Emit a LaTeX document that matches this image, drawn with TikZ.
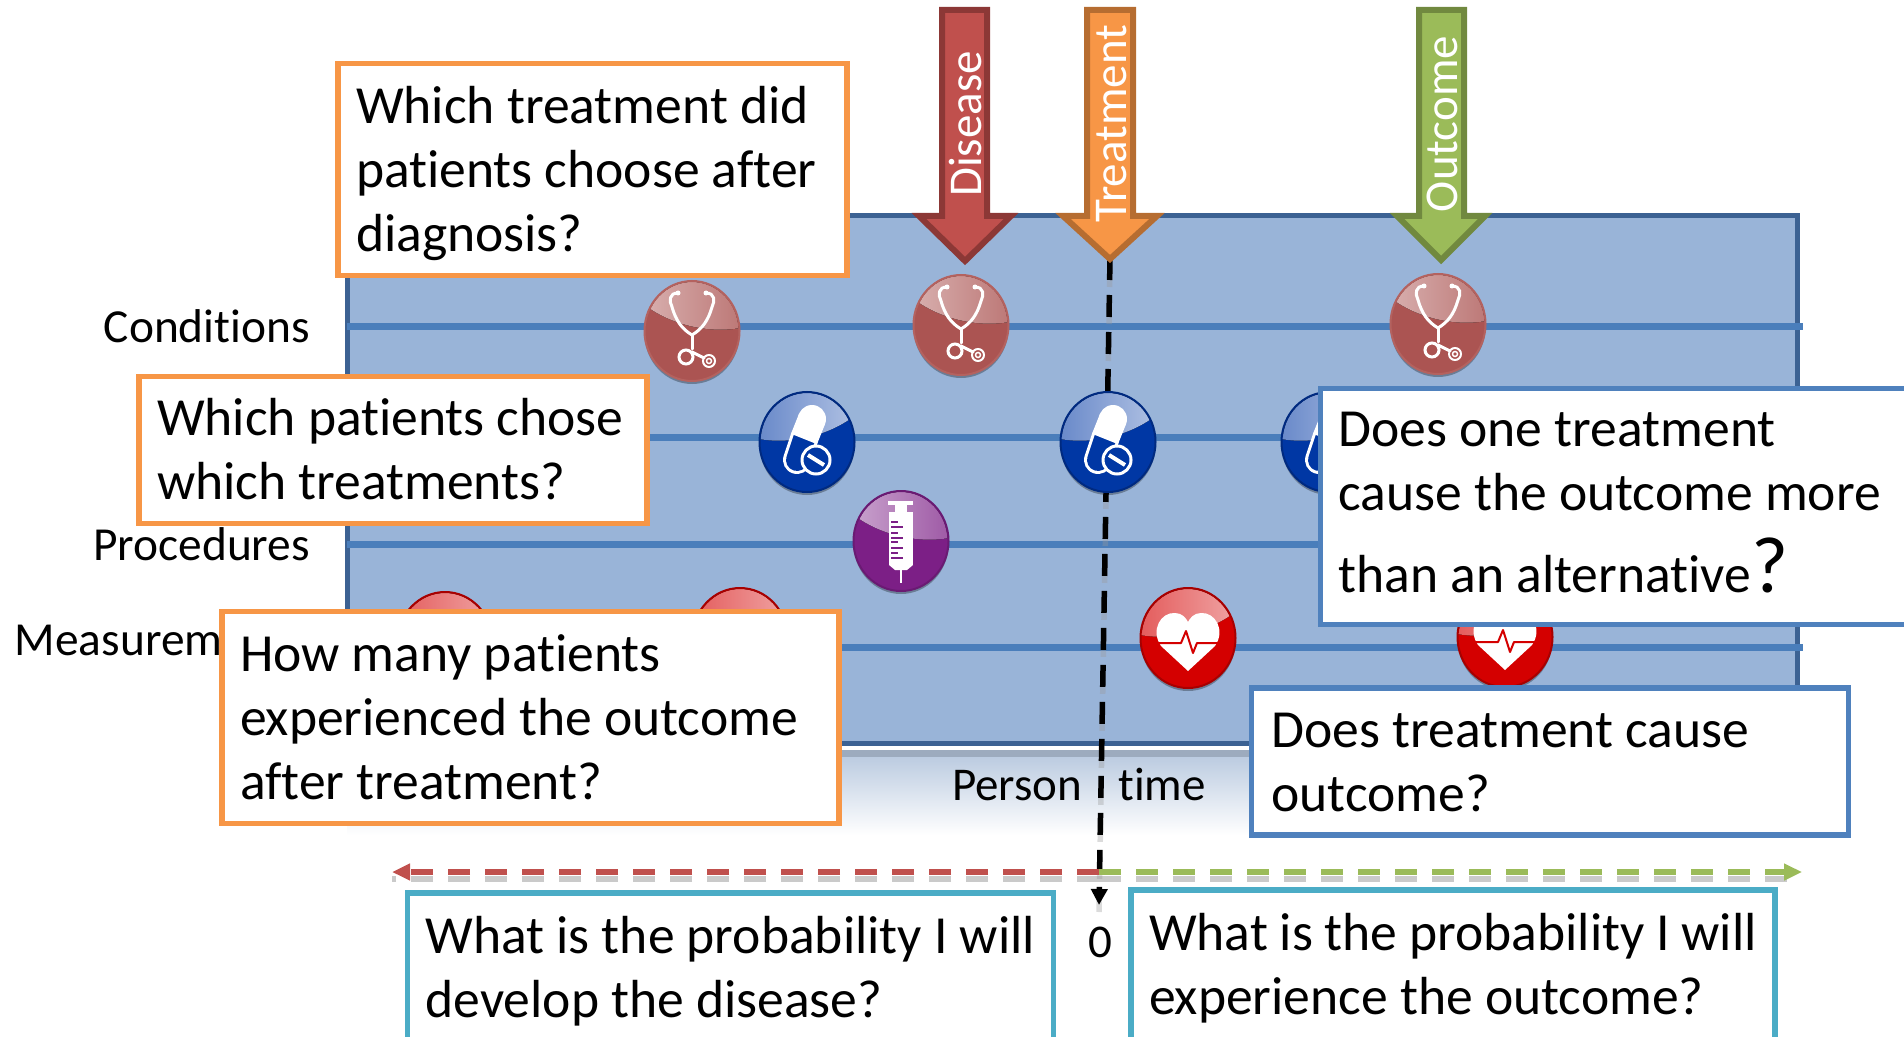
\documentclass[tikz,border=0pt]{standalone}
\usepackage{fontspec}
\setmainfont{Carlito}[Ligatures=NoCommon]
\usetikzlibrary{arrows.meta}

\definecolor{panelfill}{HTML}{99B4D8}
\definecolor{paneledge}{HTML}{3C6293}
\definecolor{rowline}{HTML}{4A7EBB}
\definecolor{boxorange}{HTML}{F79646}
\definecolor{boxblue}{HTML}{4F81BD}
\definecolor{boxcyan}{HTML}{4BACC6}
\definecolor{disred}{HTML}{C0504D}
\definecolor{disedge}{HTML}{8C3836}
\definecolor{treedge}{HTML}{B66D31}
\definecolor{outgreen}{HTML}{9BBB59}
\definecolor{outedge}{HTML}{71893F}
\definecolor{stbase}{HTML}{AB5452}
\definecolor{strim}{HTML}{B4625F}
\definecolor{pibase}{HTML}{0037A4}
\definecolor{pirim}{HTML}{002A80}
\definecolor{sybase}{HTML}{7C1F86}
\definecolor{syrim}{HTML}{6A1A73}
\definecolor{hebase}{HTML}{D40000}
\definecolor{herim}{HTML}{A80000}

\newcommand{\qstrut}{\rule[-6pt]{0pt}{29.8pt}}

\newcommand{\iconball}[6]{%
    \fill[black, opacity=0.3] (0,3) ellipse (47.5 and 50);
    \fill[#2] (0,0) ellipse (47.5 and 50);
    \begin{scope}
        \clip (0,0) ellipse (46.5 and 49);
        \begin{scope}[xscale=#1]
            \fill[left color=#4, right color=#5] (-52,-30) .. controls (-25,-6) and (20,4) .. (52,-4) -- (52,-55) -- (-52,-55) -- cycle;
        \end{scope}
    \end{scope}
    \draw[#3, line width=1pt] (0,0) ellipse (47.5 and 50);
    #6
}

\tikzset{
    qbox/.style n args={3}{draw=#1, fill=white, line width=2.75pt, line cap=butt, inner xsep=9pt, inner ysep=0pt,
        minimum width=#2, minimum height=#3, text width=#2-18pt, align=flush left, font=\fontsize{26.8}{32}\selectfont},
    rowlabel/.style={anchor=east, font=\fontsize{23.7}{28}\selectfont},
    bigarrow/.style n args={2}{fill=#1, draw=#2, line width=3pt, line join=miter, miter limit=10},
    arrowtext/.style={rotate=90, text=white, font=\fontsize{23.5}{28}\selectfont},
    blackdash/.style={line width=2.75pt, line cap=butt, dash pattern=on 11pt off 7.5pt},
    timedash/.style={line width=2.75pt, line cap=butt, dash pattern=on 11pt off 7.5pt},
    dropshade/.style={black!60, opacity=0.35, transform canvas={yshift=-3.5pt}},
    pics/stetho/.style={code={
        \iconball{1}{stbase}{strim}{stbase!45!white}{stbase!80!white}{
            \draw[white, line width=1.5pt] (-14,-38) .. controls (-23,-38) and (-23,-30) .. (-20,-24) .. controls (-16,-10) and (-10,-2) .. (0,4) .. controls (10,-2) and (16,-10) .. (20,-24) .. controls (23,-30) and (23,-38) .. (14,-38);
            \fill[white] (-14,-38) circle (2.5);
            \fill[white] (14,-38) circle (2.5);
            \draw[white, line width=1.5pt] (0,4) -- (0,18);
            \draw[white, line width=1.5pt] (-6,26) circle (7);
            \draw[white, line width=1.5pt] (0,21) -- (12,27);
            \draw[white, line width=1pt] (17,30) circle (6);
            \draw[white, line width=0.75pt] (17,30) circle (2.5);
        }
    }},
    pics/pill/.style={code={
        \iconball{-1}{pibase}{pirim}{pibase!60!white}{pibase!30!white}{
            \draw[white, line width=14pt] (-3,-3) -- (-10,18);
            \draw[pibase, line width=11pt] (-3,-3) -- (-10,18);
            \fill[white] (5,-23) circle (14);
            \draw[white, line width=14pt, line cap=butt] (5,-23) -- (-3,-3);
            \draw[white, line width=1.5pt, fill=pibase] (9,18) circle (14);
            \draw[white, line width=2pt, line cap=butt] (1,13) -- (17,23);
        }
    }},
    pics/syringe/.style={code={
        \iconball{1}{sybase}{syrim}{sybase!40!white}{sybase!75!white}{
            \fill[white] (-13,-40) rectangle (12,-36);
            \fill[white] (-6,-36) rectangle (6,-29);
            \fill[white] (-12,-29) rectangle (12,24);
            \fill[white] (-12,24) -- (12,24) -- (6,29) -- (-6,29) -- cycle;
            \draw[white, line width=1pt, line cap=butt] (0,29) -- (0,42);
            \foreach \yy/\xe in {-19/-3, -14/2, -8/-3, -3/2, 1/-3, 7/2, 12/-3, 17/2} {
                \draw[sybase, line width=0.75pt, line cap=butt] (-10,\yy) -- (\xe,\yy);
            }
        }
    }},
    pics/heartball/.style={code={
        \iconball{-1}{hebase}{herim}{hebase!65!white}{hebase!35!white}{
            \fill[white] (0,33) -- (-27,8) .. controls (-38,-8) and (-27,-26) .. (-13,-25) .. controls (-6,-25) and (-2,-20) .. (0,-16) .. controls (2,-20) and (6,-25) .. (13,-25) .. controls (27,-26) and (38,-8) .. (27,8) -- cycle;
            \draw[hebase, line width=1pt, line join=round] (-33,5) -- (-7,5) -- (-2,-7) -- (5,15) -- (9,5) -- (33,5);
        }
    }},
}

\begin{document}
\begin{tikzpicture}[x=0.5pt, y=-0.5pt, line cap=round]

    \clip (0,0) rectangle (1904,1037);

    % person time band
    \fill[top color=black!5!panelfill!65!white, bottom color=white] (347,752) rectangle (1797,835);
    \fill[black!25!panelfill!70!white] (347,750) rectangle (1797,757);

    \draw[paneledge, fill=panelfill, line width=2.5pt] (347,216) rectangle (1797,743);

    \coordinate (rowC) at (347,327);
    \coordinate (rowD) at (347,437);
    \coordinate (rowP) at (347,544);
    \coordinate (rowM) at (347,647);
    \foreach \rr in {rowC, rowD, rowP, rowM} {
        \draw[rowline, line width=3.5pt, line cap=butt] (\rr) -- ++(1456,0);
    }

    \node[rowlabel] (lblC) at (317,326) {Conditions};
    \node[rowlabel] (lblP) at (317,544) {Procedures};
    \node[rowlabel] (lblM) at (312,640) {Measurements};

    % timeline
    \coordinate (zeroT) at (1099,872);
    \coordinate (leftT) at (392,872);
    \coordinate (rightT) at (1802,872);
    \coordinate (dashE) at (1099,905);
    \coordinate (treTip) at (1110,258);

    \draw[timedash, dropshade] (zeroT) -- (leftT);
    \draw[timedash, dropshade] (zeroT) -- (rightT);
    \draw[blackdash, dropshade, black!40] (treTip) -- (dashE);
    \draw[blackdash, -{Stealth[length=8pt, width=8pt, inset=0pt]}] (treTip) -- (dashE);
    \draw[timedash, disred, -{Stealth[length=9pt, width=8pt, inset=0pt]}] (zeroT) -- (leftT);
    \draw[timedash, outgreen, -{Stealth[length=9pt, width=8pt, inset=0pt]}] (zeroT) -- (rightT);

    \node (zero) at (1100,942) {\fontsize{23.5}{28}\selectfont 0};
    \node (ptime) at (1079,784) {\fontsize{23.5}{28}\selectfont Person\hspace{18pt}time};

    % icons
    \pic (st1) at (692,331) {stetho};
    \pic (st2) at (961,325) {stetho};
    \pic (st3) at (1438,324) {stetho};
    \pic (pi1) at (807,442) {pill};
    \pic (pi2) at (1108,442) {pill};
    \pic (pi3) at (1329,442) {pill};
    \pic (sy1) at (901,541) {syringe};
    \pic (he1) at (445,642) {heartball};
    \pic (he2) at (740,638) {heartball};
    \pic (he3) at (1188,638) {heartball};
    \pic (he4) at (1505,637) {heartball};

    % big arrows
    \draw[bigarrow={disred}{disedge}] (942,10) -- (987,10) -- (987,216) -- (1011,216) -- (965,261) -- (919,216) -- (942,216) -- cycle;
    \draw[bigarrow={boxorange}{treedge}] (1087,10) -- (1133,10) -- (1133,216) -- (1157,216) -- (1110,259) -- (1063,216) -- (1087,216) -- cycle;
    \draw[bigarrow={outgreen}{outedge}] (1419,10) -- (1464,10) -- (1464,216) -- (1485,216) -- (1441,260) -- (1397,216) -- (1419,216) -- cycle;
    \node[arrowtext] (dis) at (965,124) {Disease};
    \node[arrowtext] (tre) at (1112,124) {Treatment};
    \node[arrowtext] (out) at (1442,124) {Outcome};

    % question boxes
    \node[qbox={boxorange}{254.5pt}{106pt}] (q1) at (592.5,169.5) {\qstrut Which treatment did\\patients choose after\\diagnosis?\qstrut};
    \node[qbox={boxorange}{254pt}{73.5pt}] (q2) at (393,450) {\qstrut Which patients chose\\which treatments?\qstrut};
    \node[qbox={boxorange}{308.5pt}{106pt}] (q3) at (530.5,717.5) {\qstrut How many patients\\experienced the outcome\\after treatment?\qstrut};
    \node[qbox={boxblue}{313.5pt}{118pt}] (q4) at (1634,506.5) {\qstrut Does one treatment\\cause the outcome more\\[9pt]than an alternative{\fontsize{40}{32}\selectfont ?}\rule[-10.5pt]{0pt}{10.5pt}};
    \node[qbox={boxblue}{298.5pt}{73.5pt}, text width=278.5pt, inner xsep=10pt] (q5) at (1550,761.5) {\qstrut Does treatment cause\\outcome?\qstrut};
    \node[qbox={boxcyan}{323pt}{75pt}] (q6) at (730.5,968) {\qstrut What is the probability I will\\develop the disease?\qstrut};
    \node[qbox={boxcyan}{322pt}{75pt}] (q7) at (1453,965) {\qstrut What is the probability I will\\experience the outcome?\qstrut};

\end{tikzpicture}
\end{document}
